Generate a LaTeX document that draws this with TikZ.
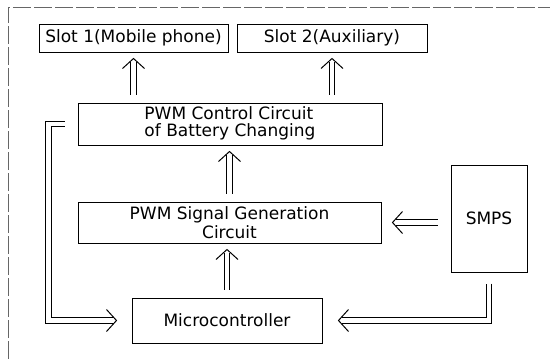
\documentclass[tikz,border=0pt]{standalone}
\usepackage{fontspec}
\setmainfont{DejaVu Sans}
\usetikzlibrary{arrows.meta,positioning,calc,decorations.markings}
\tikzset{
  blk/.style={draw,line width=1pt,inner sep=2pt,font=\fontsize{17}{20}\selectfont},
  vhead/.style={decoration={markings,mark=at position -#1 with
    {\draw[line width=1pt,shorten >=0pt,shorten <=0pt] (-10pt,-11pt) -- (0pt,0pt) -- (-10pt,11pt);}}},
  dbl/.style={preaction={draw,double,line width=1pt,double distance=4.5pt,shorten >=#1+3pt},
    postaction={vhead=#1,decorate}},
  dbl/.default=6pt,
  frame/.style={black!60,line width=0.6pt,dash pattern=on 18pt off 3pt}
}

\begin{document}
\begin{tikzpicture}[x=1pt,y=-1pt]
\useasboundingbox (0,0) rectangle (550,359);
% scanned page edge
\draw[frame] (8,359) -- (8,7) -- (550,7);

\node[blk,minimum width=189pt,minimum height=28pt] (slotA) at (133.5,38) {Slot 1(Mobile phone)};
\node[blk,minimum width=190pt,minimum height=28pt] (slotB) at (332,38) {Slot 2(Auxiliary)};
\node[blk,minimum width=304pt,minimum height=42pt] (pwmctl) at (230,124)
  {\begin{tabular}{@{}l@{}}PWM Control Circuit\\[-3pt]of Battery Changing\end{tabular}};
\node[blk,minimum width=303pt,minimum height=41pt,align=center] (pwmgen) at (229.5,222.5)
  {PWM Signal Generation\\[-1pt]Circuit};
\node[blk,minimum width=190pt,minimum height=45pt] (micro) at (227,320.5) {Microcontroller};
\node[blk,minimum width=76pt,minimum height=107pt] (smps) at (489,218.5) {SMPS};

% double-line arrows
\path[dbl,shorten <=8pt] (slotA.south |- pwmctl.north) -- (slotA.south);
\path[dbl,shorten <=8pt] (slotB.south |- pwmctl.north) -- (slotB.south);
\path[dbl,shorten <=8pt] (pwmgen.north) -- (pwmgen.north |- pwmctl.south);
\path[dbl,shorten <=8pt] (micro.north) -- (micro.north |- pwmgen.south);
\path[dbl=11pt,shorten <=13pt] (smps.west |- pwmgen.east) -- (pwmgen.east);
\path[dbl=16pt,shorten <=11pt] (smps.south) |- (micro.east);
\path[dbl=15pt,shorten <=13pt] (pwmctl.west) -- ++(-29,0) |- (micro.west);
\end{tikzpicture}
\end{document}
